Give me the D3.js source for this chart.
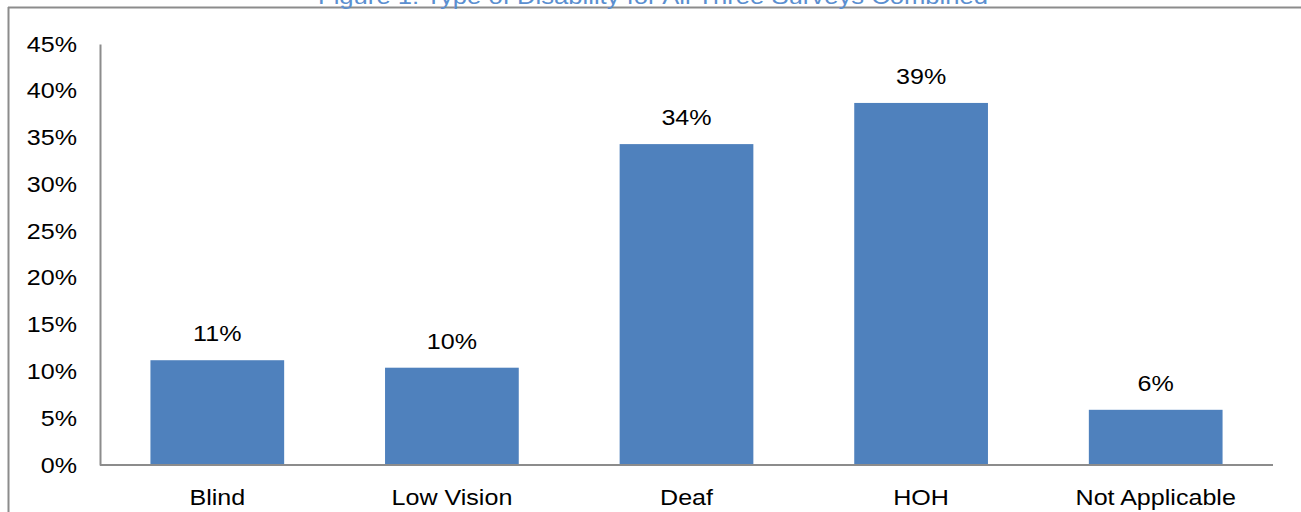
<!DOCTYPE html>
<html>
<head>
<meta charset="utf-8">
<title>Type of Disability</title>
<script src="https://d3js.org/d3.v7.min.js"></script>
<style>
  body { margin: 0; background: #fff; }
  text { font-family: "Liberation Sans", Arial, sans-serif; fill: #000; }
</style>
</head>
<body>
<svg width="1301" height="512"></svg>
<script>
const categories = ["Blind", "Low Vision", "Deaf", "HOH", "Not Applicable"];
const values = [11.2, 10.4, 34.3, 38.7, 5.9];
const valueLabels = ["11%", "10%", "34%", "39%", "6%"];
const yTicks = [0, 5, 10, 15, 20, 25, 30, 35, 40, 45];
const title = "Figure 1: Type of Disability for All Three Surveys Combined";

const svg = d3.select("svg");
const margin = { top: 44, left: 100, right: 28, bottom: 47 };
const width = +svg.attr("width");
const height = +svg.attr("height");
const stretch = 1.14; // the original font is a bit wider than Liberation Sans

// widen text horizontally a little
const widen = sel => sel.each(function () {
  const w = this.getComputedTextLength();
  d3.select(this).attr("textLength", w * stretch).attr("lengthAdjust", "spacingAndGlyphs");
});

// outer frame (only top and left visible)
svg.append("line").attr("x1", 8).attr("x2", width).attr("y1", 7.5).attr("y2", 7.5)
  .attr("stroke", "#8c8c8c").attr("stroke-width", 2);
svg.append("line").attr("x1", 8.5).attr("x2", 8.5).attr("y1", 7).attr("y2", height)
  .attr("stroke", "#8c8c8c").attr("stroke-width", 2);

// title, cut off at the top like the original
svg.append("text")
  .attr("x", 653).attr("y", 4)
  .attr("text-anchor", "middle")
  .attr("textLength", 670)
  .attr("lengthAdjust", "spacingAndGlyphs")
  .style("font-size", "22px")
  .style("fill", "#5b8fd0")
  .text(title);

const x = d3.scaleBand()
  .domain(categories)
  .range([margin.left, width - margin.right])
  .paddingInner(0.43).paddingOuter(0.215);

const y = d3.scaleLinear()
  .domain([0, 45])
  .range([height - margin.bottom, margin.top]);

const data = categories.map((c, i) => ({ c, v: values[i], label: valueLabels[i] }));

svg.selectAll("rect.bar").data(data).join("rect")
  .attr("class", "bar")
  .attr("x", d => x(d.c))
  .attr("width", x.bandwidth())
  .attr("y", d => y(d.v))
  .attr("height", d => y(0) - y(d.v))
  .attr("fill", "#4f81bd");

svg.selectAll("text.val").data(data).join("text")
  .attr("class", "val")
  .attr("x", d => x(d.c) + x.bandwidth() / 2)
  .attr("y", d => y(d.v) - 19)
  .attr("text-anchor", "middle")
  .style("font-size", "22px")
  .text(d => d.label)
  .call(widen);

// y axis
const yAxis = d3.axisLeft(y).tickValues(yTicks).tickSize(0).tickPadding(23)
  .tickFormat(d => d + "%");
const gy = svg.append("g").attr("transform", `translate(${margin.left},0)`).call(yAxis);
gy.select(".domain").attr("stroke", "#8c8c8c").attr("stroke-width", 2);
gy.selectAll("text").style("font-size", "22px").style("font-family", "Liberation Sans, Arial, sans-serif")
  .call(widen);

// x axis
const xAxis = d3.axisBottom(x).tickSize(0).tickPadding(24);
const gx = svg.append("g").attr("transform", `translate(0,${y(0)})`).call(xAxis);
gx.select(".domain").attr("stroke", "#8c8c8c").attr("stroke-width", 2)
  .attr("d", `M${margin.left},0H${width - margin.right}`);
gx.selectAll("text").style("font-size", "22px").style("font-family", "Liberation Sans, Arial, sans-serif")
  .call(widen);
</script>
</body>
</html>
